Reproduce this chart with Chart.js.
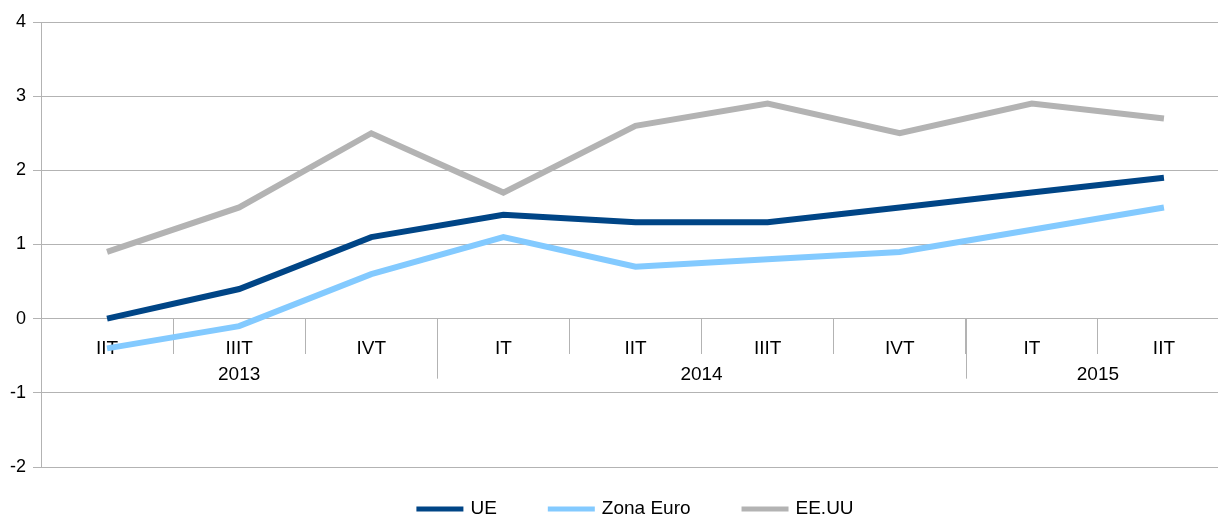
<!DOCTYPE html>
<html>
<head>
<meta charset="utf-8">
<script src="https://cdn.jsdelivr.net/npm/chart.js@4.4.0/dist/chart.umd.min.js"></script>
<style>
  html, body { margin: 0; padding: 0; background: #fff; overflow: hidden; }
  #wrap { position: absolute; left: 0; top: 0; width: 1269px; height: 519px; }
</style>
</head>
<body>
<div id="wrap"><canvas id="chart" width="1269" height="519"></canvas></div>
<script>
// quarters along the x axis, with the year each one belongs to
const quarters = ["IIT", "IIIT", "IVT", "IT", "IIT", "IIIT", "IVT", "IT", "IIT"];
const years = ["2013", "2013", "2013", "2014", "2014", "2014", "2014", "2015", "2015"];

// series values
const ue = [0, 0.4, 1.1, 1.4, 1.3, 1.3, 1.5, 1.7, 1.9];
const zonaEuro = [-0.4, -0.1, 0.6, 1.1, 0.7, 0.8, 0.9, 1.2, 1.5];
const eeuu = [0.9, 1.5, 2.5, 1.7, 2.6, 2.9, 2.5, 2.9, 2.7];

const seriesNames = ["UE", "Zona Euro", "EE.UU"];
const seriesColors = ["#004586", "#83caff", "#b3b3b3"];

const yMin = -2;
const yMax = 4;

const FONT = '"Liberation Sans", Arial, sans-serif';
const GRID = "#b3b3b3";

// year row under the quarter labels, with separators between years
const yearRow = {
  id: "yearRow",
  afterDraw(chart) {
    const x = chart.scales.x;
    const y0 = chart.scales.y.getPixelForValue(0);
    const half = (x.getPixelForTick(1) - x.getPixelForTick(0)) / 2;
    const ctx = chart.ctx;
    ctx.save();
    ctx.font = "19px " + FONT;
    ctx.fillStyle = "#000";
    ctx.textAlign = "center";
    ctx.textBaseline = "middle";
    ctx.strokeStyle = GRID;
    ctx.lineWidth = 1;
    let start = 0;
    for (let i = 1; i <= years.length; i++) {
      if (i === years.length || years[i] !== years[start]) {
        const left = x.getPixelForTick(start) - half;
        const right = x.getPixelForTick(i - 1) + half;
        ctx.fillText(years[start], (left + right) / 2, y0 + 56);
        if (i < years.length) {
          const sx = Math.round(right) + 0.5;
          ctx.beginPath();
          ctx.moveTo(sx, y0);
          ctx.lineTo(sx, y0 + 60);
          ctx.stroke();
        }
        start = i;
      }
    }
    ctx.restore();
  }
};

// legend with line swatches, centred under the chart
const lineLegend = {
  id: "lineLegend",
  afterDraw(chart) {
    const ctx = chart.ctx;
    const sw = 47, gap = 7, spacing = 51, cy = 509;
    ctx.save();
    ctx.font = "19px " + FONT;
    const items = chart.data.datasets.map(ds => ({
      label: ds.label,
      color: ds.borderColor,
      w: ctx.measureText(ds.label).width
    }));
    let total = 0;
    items.forEach((it, i) => { total += sw + gap + it.w + (i < items.length - 1 ? spacing : 0); });
    let x = 635 - total / 2;
    ctx.textBaseline = "middle";
    ctx.textAlign = "left";
    items.forEach(it => {
      ctx.fillStyle = it.color;
      ctx.fillRect(x, cy - 2.5, sw, 5);
      ctx.fillStyle = "#000";
      ctx.fillText(it.label, x + sw + gap, cy);
      x += sw + gap + it.w + spacing;
    });
    ctx.restore();
  }
};

const datasets = [ue, zonaEuro, eeuu].map((values, i) => ({
  label: seriesNames[i],
  data: values,
  borderColor: seriesColors[i],
  backgroundColor: seriesColors[i],
  borderWidth: 6,
  pointRadius: 0,
  tension: 0,
  fill: false
}));

new Chart(document.getElementById("chart"), {
  type: "line",
  data: { labels: quarters, datasets: datasets },
  plugins: [yearRow, lineLegend],
  options: {
    responsive: false,
    animation: false,
    devicePixelRatio: 1,
    layout: { padding: { top: 22, right: 39, bottom: 52, left: 0 } },
    plugins: {
      legend: { display: false },
      tooltip: { enabled: false }
    },
    scales: {
      x: {
        type: "category",
        position: { y: 0 },
        offset: true,
        afterFit(scale) { scale.height = 0; },
        grid: {
          display: true,
          drawOnChartArea: false,
          offset: true,
          tickLength: 35,
          color: GRID
        },
        border: { color: GRID },
        ticks: {
          autoSkip: false,
          maxRotation: 0,
          padding: -16,
          color: "#000",
          font: { family: FONT, size: 19 }
        }
      },
      y: {
        min: yMin,
        max: yMax,
        afterFit(scale) { scale.width = 41; },
        grid: { color: GRID, tickLength: 8 },
        border: { color: GRID },
        ticks: {
          stepSize: 1,
          padding: 7,
          color: "#000",
          font: { family: FONT, size: 18 }
        }
      }
    }
  }
});
</script>
</body>
</html>
